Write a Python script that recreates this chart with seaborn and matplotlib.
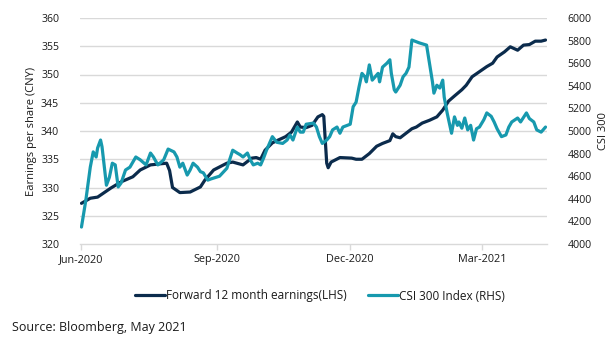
import numpy as np
import pandas as pd
import matplotlib
matplotlib.use("Agg")
import matplotlib.pyplot as plt
import matplotlib.dates as mdates
import seaborn as sns

# ---- data (days since 2020-06-01) ----
start_date = "2020-06-01"
eps_days = [0, 6, 11, 20, 27, 35, 40, 47, 54, 58, 60, 62, 67, 74, 81, 84, 90, 99, 103, 110,
            116, 119, 122, 125, 130, 134, 139, 143, 147, 149, 153, 157, 161, 164, 165, 167, 168,
            170, 176, 184, 187, 191, 196, 201, 205, 210, 212, 214, 217, 221, 225, 228, 232, 237,
            242, 246, 250, 254, 259, 262, 266, 271, 276, 280, 283, 288, 292, 297, 301, 305, 309,
            313, 316]
eps_values = [327.2, 328.1, 328.3, 329.9, 331.0, 331.9, 333.1, 334.0, 334.2, 334.3, 333.0, 330.0,
              329.1, 329.2, 330.1, 331.3, 333.1, 334.3, 334.5, 334.0, 335.2, 335.3, 335.0, 336.6,
              337.9, 338.4, 339.0, 339.8, 341.6, 340.7, 340.6, 341.0, 342.5, 342.9, 342.6, 334.3,
              333.5, 334.5, 335.3, 335.2, 335.0, 335.0, 336.0, 337.3, 337.8, 338.3, 339.5, 339.0,
              338.8, 339.6, 340.4, 340.7, 341.4, 341.9, 342.5, 343.7, 345.3, 346.2, 347.3, 348.1,
              349.6, 350.5, 351.4, 352.0, 353.1, 354.0, 354.9, 354.3, 355.2, 355.3, 355.9, 355.9,
              356.1]

csi_days = [0, 3, 6, 8, 10, 11, 13, 14, 16, 17, 19, 21, 23, 25, 27, 30, 33, 37, 40, 44, 47, 49,
            52, 56, 59, 63, 65, 67, 69, 72, 74, 76, 79, 81, 83, 86, 88, 94, 99, 103, 106, 108, 110,
            113, 115, 117, 120, 122, 124, 126, 130, 133, 137, 140, 142, 144, 147, 149, 151, 153,
            158, 160, 162, 164, 167, 169, 171, 174, 176, 178, 181, 183, 185, 187, 189, 191, 193,
            194, 196, 198, 200, 202, 203, 205, 208, 210, 211, 213, 214, 217, 219, 221, 223, 225,
            230, 235, 237, 239, 240, 242, 244, 246, 247, 249, 252, 254, 256, 257, 259, 261, 263,
            265, 267, 269, 271, 274, 276, 279, 281, 283, 286, 289, 291, 293, 297, 299, 303, 305,
            308, 310, 313, 316]
csi_values = [4150, 4390, 4680, 4815, 4770, 4850, 4920, 4860, 4630, 4520, 4590, 4715, 4700, 4505,
              4540, 4655, 4680, 4770, 4745, 4700, 4805, 4770, 4700, 4745, 4840, 4815, 4770, 4680,
              4715, 4610, 4655, 4715, 4680, 4640, 4630, 4565, 4575, 4600, 4670, 4830, 4805, 4790,
              4770, 4805, 4745, 4700, 4715, 4700, 4760, 4830, 4950, 4900, 4890, 4920, 4965, 4920,
              5035, 4990, 4990, 5060, 5070, 5035, 4950, 4890, 4920, 4950, 5010, 5035, 4980, 5035,
              5050, 5060, 5215, 5255, 5390, 5510, 5480, 5435, 5585, 5450, 5480, 5510, 5435, 5565,
              5600, 5630, 5510, 5365, 5345, 5405, 5480, 5510, 5565, 5805, 5780, 5760, 5600, 5435,
              5335, 5405, 5380, 5450, 5300, 5160, 4980, 5125, 5050, 5080, 5025, 5115, 5010, 5050,
              4920, 5020, 5035, 5100, 5160, 5130, 5080, 5020, 4950, 4965, 5035, 5080, 5115, 5080,
              5160, 5110, 5080, 5010, 4990, 5035]

tick_dates = ["2020-06-01", "2020-09-01", "2020-12-01", "2021-03-01"]
eps_label = "Forward 12 month earnings(LHS)"
csi_label = "CSI 300 Index (RHS)"
left_ylabel = "Earnings per share (CNY)"
right_ylabel = "CSI 300"
source_text = "Source: Bloomberg, May 2021"

dark = "#0b2b4c"
teal = "#1799ae"
grid_c = "#d9d9d9"
txt_c = "#1a1a1a"

sns.set_theme(style="white")
plt.rcParams["font.family"] = ["Open Sans", "DejaVu Sans"]

t0 = pd.Timestamp(start_date)
eps_df = pd.DataFrame({"date": t0 + pd.to_timedelta(eps_days, unit="D"), "value": eps_values})
csi_df = pd.DataFrame({"date": t0 + pd.to_timedelta(csi_days, unit="D"), "value": csi_values})

fig = plt.figure(figsize=(6.10, 3.44), dpi=100)
ax = fig.add_axes([80 / 610, 1 - 244 / 344, (547 - 80) / 610, (244 - 18) / 344])
ax2 = ax.twinx()

sns.lineplot(data=eps_df, x="date", y="value", ax=ax, color=dark, linewidth=2.3,
             label=eps_label, legend=False, zorder=3)
sns.lineplot(data=csi_df, x="date", y="value", ax=ax2, color=teal, linewidth=2.3,
             label=csi_label, legend=False, zorder=3)

ax.set_xlim(pd.Timestamp("2020-05-31"), pd.Timestamp("2021-04-14"))
ax.set_ylim(320, 360)
ax2.set_ylim(4000, 6000)
ax.set_yticks(np.arange(320, 361, 5))
ax2.set_yticks(np.arange(4000, 6001, 200))
ax.set_xticks(pd.to_datetime(tick_dates))
ax.xaxis.set_major_formatter(mdates.DateFormatter("%b-%Y"))

for a in (ax, ax2):
    for s in a.spines.values():
        s.set_visible(False)
ax.spines["bottom"].set_visible(True)
ax.spines["bottom"].set_color(grid_c)
ax.spines["bottom"].set_linewidth(1)

ax2.grid(False)
ax.grid(False)
for v in np.arange(325, 361, 5):
    ax.axhline(v, color=grid_c, linewidth=1, zorder=0)

ax.tick_params(axis="x", bottom=True, length=4, width=1, color=grid_c, labelsize=7.8,
               pad=3, labelcolor=txt_c)
ax.tick_params(axis="y", left=False, labelsize=7.6, pad=9, labelcolor=txt_c)
ax2.tick_params(axis="y", right=False, labelsize=7.6, pad=9, labelcolor=txt_c)

ax.set_xlabel("")
ax.set_ylabel(left_ylabel, fontsize=8, color=txt_c, labelpad=3)
ax2.set_ylabel(right_ylabel, fontsize=8, color=txt_c, labelpad=4)

h1, l1 = ax.get_legend_handles_labels()
h2, l2 = ax2.get_legend_handles_labels()
fig.legend(h1 + h2, l1 + l2, loc="center", bbox_to_anchor=(320 / 610, 1 - 296 / 344),
           ncol=2, frameon=False, fontsize=8.5, handlelength=2.5, handletextpad=0.1,
           columnspacing=1.8, labelcolor=txt_c)

fig.text(12 / 610, 1 - 327 / 344, source_text, fontsize=9, color=txt_c,
         ha="left", va="center")

fig.savefig("out.png", dpi=100)
